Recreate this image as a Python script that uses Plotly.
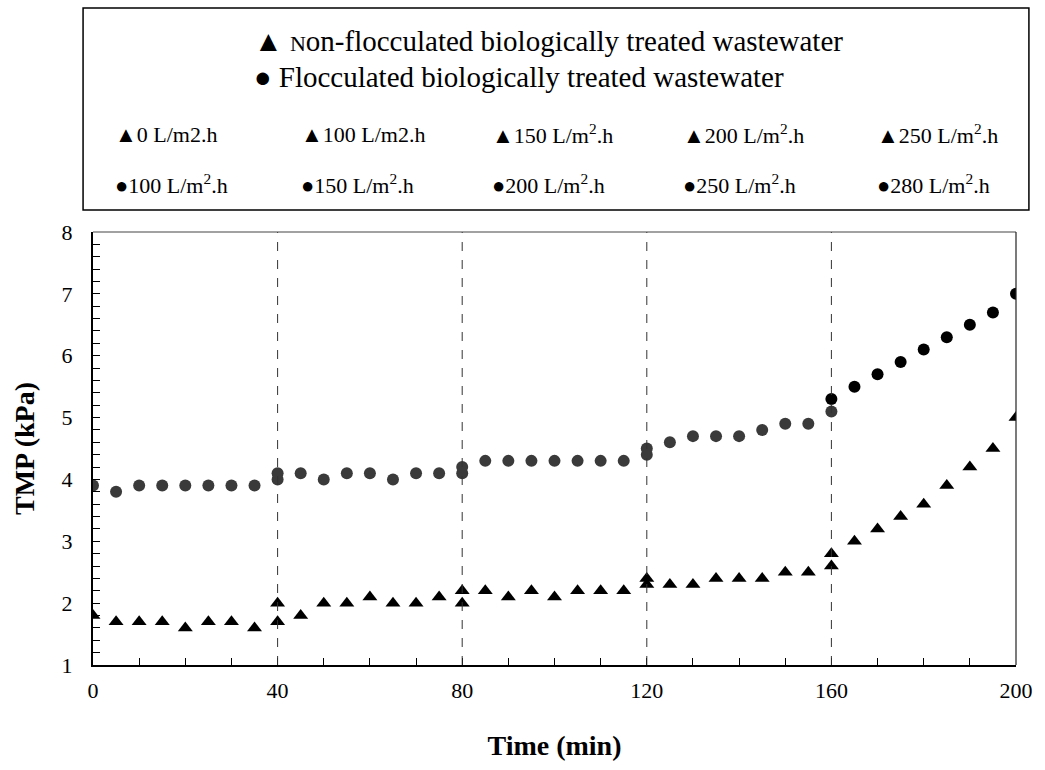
import plotly.graph_objects as go

# ---- data ----
tri_labels = ["0 L/m2.h", "100 L/m2.h", "150 L/m<sup>2</sup>.h", "200 L/m<sup>2</sup>.h", "250 L/m<sup>2</sup>.h"]
cir_labels = ["100 L/m<sup>2</sup>.h", "150 L/m<sup>2</sup>.h", "200 L/m<sup>2</sup>.h", "250 L/m<sup>2</sup>.h", "280 L/m<sup>2</sup>.h"]

t_seg1 = [0, 5, 10, 15, 20, 25, 30, 35, 40]
t_seg2 = [40, 45, 50, 55, 60, 65, 70, 75, 80]
t_seg3 = [80, 85, 90, 95, 100, 105, 110, 115, 120]
t_seg4 = [120, 125, 130, 135, 140, 145, 150, 155, 160]
t_seg5 = [160, 165, 170, 175, 180, 185, 190, 195, 200]

tri_seg1 = [1.8, 1.7, 1.7, 1.7, 1.6, 1.7, 1.7, 1.6, 1.7]
tri_seg2 = [2.0, 1.8, 2.0, 2.0, 2.1, 2.0, 2.0, 2.1, 2.0]
tri_seg3 = [2.2, 2.2, 2.1, 2.2, 2.1, 2.2, 2.2, 2.2, 2.3]
tri_seg4 = [2.4, 2.3, 2.3, 2.4, 2.4, 2.4, 2.5, 2.5, 2.6]
tri_seg5 = [2.8, 3.0, 3.2, 3.4, 3.6, 3.9, 4.2, 4.5, 5.0]

cir_seg1 = [3.9, 3.8, 3.9, 3.9, 3.9, 3.9, 3.9, 3.9, 4.0]
cir_seg2 = [4.1, 4.1, 4.0, 4.1, 4.1, 4.0, 4.1, 4.1, 4.1]
cir_seg3 = [4.2, 4.3, 4.3, 4.3, 4.3, 4.3, 4.3, 4.3, 4.4]
cir_seg4 = [4.5, 4.6, 4.7, 4.7, 4.7, 4.8, 4.9, 4.9, 5.1]
cir_seg5 = [5.3, 5.5, 5.7, 5.9, 6.1, 6.3, 6.5, 6.7, 7.0]

t_segs = [t_seg1, t_seg2, t_seg3, t_seg4, t_seg5]
tri_segs = [tri_seg1, tri_seg2, tri_seg3, tri_seg4, tri_seg5]
cir_segs = [cir_seg1, cir_seg2, cir_seg3, cir_seg4, cir_seg5]
cir_colors = ["#3a3a3a", "#3a3a3a", "#3a3a3a", "#3a3a3a", "#000000"]
boundaries = [40, 80, 120, 160]

FONT = "Liberation Serif"

fig = go.Figure()
for i in range(5):
    fig.add_trace(go.Scatter(x=t_segs[i], y=cir_segs[i], mode="markers",
                             name="●" + cir_labels[i],
                             marker=dict(symbol="circle", size=12, color=cir_colors[i])))
for i in range(5):
    fig.add_trace(go.Scatter(x=t_segs[i], y=tri_segs[i], mode="markers",
                             name="▲" + tri_labels[i],
                             marker=dict(symbol="triangle-up", size=13, color="black")))

# ---- layout geometry (pixels) ----
W, H = 1045, 770
L, R, T, B = 93, 1022, 232, 665


def px(x):
    return (x - L) / (R - L)


def py(y):
    return (B - y) / (B - T)


shapes = []
for b in boundaries:
    shapes.append(dict(type="line", xref="x", yref="paper", x0=b, x1=b, y0=0, y1=1,
                       line=dict(color="#333333", width=1, dash="dash")))
# plot frame (top/right)
shapes.append(dict(type="line", xref="paper", yref="paper", x0=0, x1=1, y0=1, y1=1,
                   line=dict(color="#444444", width=1.2)))
shapes.append(dict(type="line", xref="paper", yref="paper", x0=1, x1=1, y0=0, y1=1,
                   line=dict(color="#222222", width=1.2)))
# legend box
shapes.append(dict(type="rect", xref="paper", yref="paper", x0=px(83), x1=px(1035),
                   y0=py(210), y1=py(8), line=dict(color="black", width=1.5)))

small_n = "<span style='font-size:22px'>N</span>"
annotations = [
    dict(text="▲ " + small_n + "on-flocculated biologically treated wastewater", x=px(253), y=py(41),
         xanchor="left", yanchor="middle", font=dict(size=29)),
    dict(text="● Flocculated biologically treated wastewater", x=px(253), y=py(77),
         xanchor="left", yanchor="middle", font=dict(size=29)),
]
col_x = [113, 300, 493, 685, 880]
for i in range(5):
    annotations.append(dict(text="▲" + tri_labels[i], x=px(col_x[i]), y=py(134),
                            xanchor="left", yanchor="middle", font=dict(size=22)))
    annotations.append(dict(text="●" + cir_labels[i], x=px(col_x[i]), y=py(184),
                            xanchor="left", yanchor="middle", font=dict(size=22)))
for a in annotations:
    a.update(xref="paper", yref="paper", showarrow=False)
    a["font"].update(family=FONT, color="black")

fig.update_layout(
    width=W, height=H,
    margin=dict(l=L, r=W - R, t=T, b=H - B),
    paper_bgcolor="white", plot_bgcolor="white",
    showlegend=False,
    font=dict(family=FONT, color="black", size=22),
    shapes=shapes, annotations=annotations,
)
fig.update_xaxes(range=[0, 200], dtick=40, tick0=0, ticks="inside", ticklen=7,
                 tickcolor="black", showgrid=False, zeroline=False,
                 showline=True, linecolor="black", linewidth=2,
                 minor=dict(dtick=10, ticks="inside", ticklen=7, tickcolor="black", showgrid=False),
                 tickfont=dict(family=FONT, size=22, color="black"),
                 ticklabelstandoff=5,
                 title=dict(text="<b>Time (min)</b>", font=dict(family=FONT, size=28, color="black"),
                            standoff=33))
fig.update_yaxes(range=[1, 8], dtick=1, ticks="inside", ticklen=7,
                 tickcolor="black", showgrid=False, zeroline=False,
                 showline=True, linecolor="black", linewidth=2,
                 minor=dict(dtick=0.2, ticks="inside", ticklen=7, tickcolor="black", showgrid=False),
                 tickfont=dict(family=FONT, size=22, color="black"),
                 ticklabelstandoff=14,
                 title=dict(text="<b>TMP (kPa)</b>", font=dict(family=FONT, size=28, color="black"),
                            standoff=19))

fig.write_html("out.html")
